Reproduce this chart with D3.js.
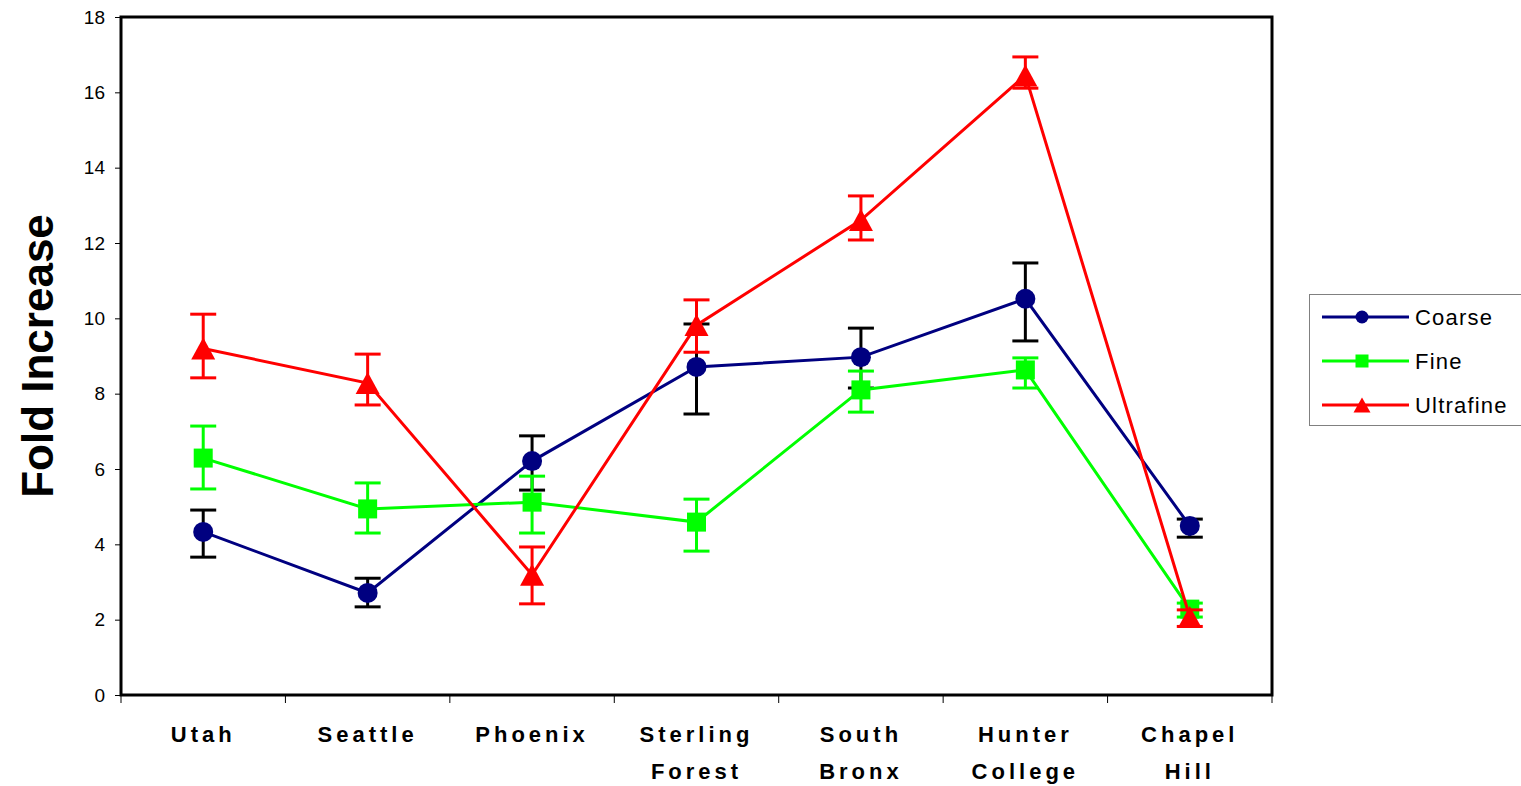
<!DOCTYPE html>
<html>
<head>
<meta charset="utf-8">
<script src="https://cdn.jsdelivr.net/npm/d3@7"></script>
<style>
  body { margin: 0; background: #fff; }
  svg { display: block; }
</style>
</head>
<body>
<script>
const width = 1521;
const height = 786;

// categories, one array per label line
const categories = [["Utah"], ["Seattle"], ["Phoenix"], ["Sterling", "Forest"],
  ["South", "Bronx"], ["Hunter", "College"], ["Chapel", "Hill"]];
const yTicks = [0, 2, 4, 6, 8, 10, 12, 14, 16, 18];

const coarse = [4.33, 2.71, 6.21, 8.71, 8.97, 10.52, 4.49];
const coarseLo = [3.66, 2.34, 5.44, 7.46, 8.15, 9.40, 4.19];
const coarseHi = [4.91, 3.10, 6.88, 9.85, 9.74, 11.47, 4.67];

const fine = [6.29, 4.94, 5.12, 4.59, 8.10, 8.63, 2.28];
const fineLo = [5.47, 4.30, 4.30, 3.82, 7.51, 8.15, 2.07];
const fineHi = [7.14, 5.63, 5.81, 5.20, 8.60, 8.95, 2.44];

const ultra = [9.20, 8.28, 3.19, 9.82, 12.61, 16.45, 2.07];
const ultraLo = [8.42, 7.70, 2.42, 9.10, 12.08, 16.11, 1.82];
const ultraHi = [10.11, 9.05, 3.93, 10.49, 13.25, 16.94, 2.26];

const series = [
  { name: "Coarse", values: coarse, lo: coarseLo, hi: coarseHi, color: "#000080", errColor: "#000000", shape: "circle" },
  { name: "Fine", values: fine, lo: fineLo, hi: fineHi, color: "#00ff00", errColor: "#00ff00", shape: "square" },
  { name: "Ultrafine", values: ultra, lo: ultraLo, hi: ultraHi, color: "#ff0000", errColor: "#ff0000", shape: "triangle" }
];

const plotLeft = 121, plotRight = 1272, plotTop = 17, plotBottom = 695;

const svg = d3.select("body").append("svg")
  .attr("width", width)
  .attr("height", height);

const x = d3.scaleBand()
  .domain(d3.range(categories.length))
  .range([plotLeft, plotRight]);

const y = d3.scaleLinear()
  .domain([0, 18])
  .range([plotBottom, plotTop]);

// y axis ticks + labels
const yAxis = d3.axisLeft(y).tickValues(yTicks).tickSize(6).tickPadding(10).tickSizeOuter(0);
const gy = svg.append("g")
  .attr("transform", "translate(" + plotLeft + ",0)")
  .call(yAxis);
gy.select(".domain").remove();
gy.selectAll("text")
  .attr("font-family", "Arial, 'Liberation Sans', sans-serif")
  .attr("font-size", 19)
  .attr("fill", "#000");

// x ticks at band boundaries
svg.selectAll(".xtick")
  .data(d3.range(categories.length + 1))
  .enter()
  .append("line")
    .attr("x1", function (d) { return plotLeft + d * x.step(); })
    .attr("x2", function (d) { return plotLeft + d * x.step(); })
    .attr("y1", plotBottom)
    .attr("y2", plotBottom + 8)
    .attr("stroke", "#000")
    .attr("stroke-width", 1);

// category labels
const spacing = 4;
svg.selectAll(".xlabel")
  .data(categories)
  .enter()
  .append("text")
    .attr("text-anchor", "middle")
    .attr("font-family", "Arial, 'Liberation Sans', sans-serif")
    .attr("font-weight", "bold")
    .attr("font-size", 22)
    .attr("letter-spacing", spacing + "px")
    .each(function (d, i) {
      const t = d3.select(this);
      d.forEach(function (line, j) {
        t.append("tspan")
          .attr("x", x(i) + x.bandwidth() / 2 + spacing / 2 - 2)
          .attr("y", 742 + j * 37)
          .text(line);
      });
    });

// plot frame
svg.append("rect")
  .attr("x", plotLeft)
  .attr("y", plotTop)
  .attr("width", plotRight - plotLeft)
  .attr("height", plotBottom - plotTop)
  .attr("fill", "none")
  .attr("stroke", "#000")
  .attr("stroke-width", 3);

// y title
svg.append("text")
  .attr("transform", "translate(53," + (plotTop + plotBottom) / 2 + ") rotate(-90)")
  .attr("text-anchor", "middle")
  .attr("font-family", "Arial, 'Liberation Sans', sans-serif")
  .attr("font-weight", "bold")
  .attr("font-size", 44)
  .text("Fold Increase");

function drawMarker(g, shape, cx, cy, size, color) {
  if (shape === "circle") {
    g.append("circle").attr("cx", cx).attr("cy", cy).attr("r", size / 2).attr("fill", color);
  } else if (shape === "square") {
    g.append("rect").attr("x", cx - size / 2).attr("y", cy - size / 2)
      .attr("width", size).attr("height", size).attr("fill", color);
  } else {
    const h = size;
    g.append("path")
      .attr("d", "M" + cx + "," + (cy - h / 2) + "L" + (cx + size / 2 + 1) + "," + (cy + h / 2) +
        "L" + (cx - size / 2 - 1) + "," + (cy + h / 2) + "Z")
      .attr("fill", color);
  }
}

const line = d3.line()
  .x(function (d, i) { return x(i) + x.bandwidth() / 2; })
  .y(function (d) { return y(d); });

const markerSize = { circle: 20, square: 19, triangle: 22 };

series.forEach(function (s) {
  const g = svg.append("g");
  const capW = 13;
  // error bars
  s.values.forEach(function (v, i) {
    const cx = x(i) + x.bandwidth() / 2;
    g.append("line").attr("x1", cx).attr("x2", cx)
      .attr("y1", y(s.lo[i])).attr("y2", y(s.hi[i]))
      .attr("stroke", s.errColor).attr("stroke-width", 3);
    [s.lo[i], s.hi[i]].forEach(function (e) {
      g.append("line").attr("x1", cx - capW).attr("x2", cx + capW)
        .attr("y1", y(e)).attr("y2", y(e))
        .attr("stroke", s.errColor).attr("stroke-width", 3);
    });
  });
  g.append("path")
    .datum(s.values)
    .attr("d", line)
    .attr("fill", "none")
    .attr("stroke", s.color)
    .attr("stroke-width", 3);
  s.values.forEach(function (v, i) {
    drawMarker(g, s.shape, x(i) + x.bandwidth() / 2, y(v), markerSize[s.shape], s.color);
  });
});

// legend
const legend = svg.append("g");
legend.append("rect")
  .attr("x", 1309.5)
  .attr("y", 294.5)
  .attr("width", 240)
  .attr("height", 131)
  .attr("fill", "#fff")
  .attr("stroke", "#808080")
  .attr("stroke-width", 1);

const legendSize = { circle: 13, square: 13, triangle: 15 };
series.forEach(function (s, i) {
  const ly = 317 + i * 44;
  legend.append("line")
    .attr("x1", 1322).attr("x2", 1409)
    .attr("y1", ly).attr("y2", ly)
    .attr("stroke", s.color).attr("stroke-width", 3);
  drawMarker(legend, s.shape, 1362, ly, legendSize[s.shape], s.color);
  legend.append("text")
    .attr("x", 1415)
    .attr("y", ly + 8)
    .attr("font-family", "Arial, 'Liberation Sans', sans-serif")
    .attr("font-size", 22)
    .attr("letter-spacing", "1.2px")
    .text(s.name);
});
</script>
</body>
</html>
